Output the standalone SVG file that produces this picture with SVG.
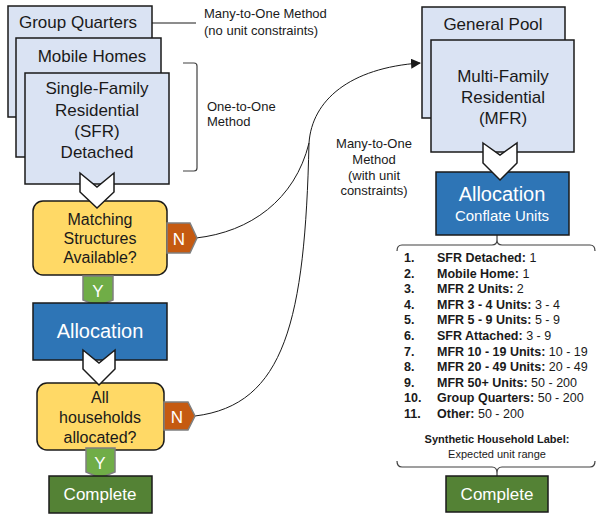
<svg xmlns="http://www.w3.org/2000/svg" width="597" height="514" viewBox="0 0 597 514">
<defs>
<style>
.t{font-family:"Liberation Sans",Arial,sans-serif;fill:#1a1a1a}
.w{font-family:"Liberation Sans",Arial,sans-serif;fill:#ffffff}
.box{fill:#DAE3F3;stroke:#1a1a1a;stroke-width:1.5}
.dec{fill:#FFD966;stroke:#1a1a1a;stroke-width:1.5}
.alloc{fill:#2E75B6;stroke:#1a1a1a;stroke-width:1.5}
.done{fill:#548235;stroke:#1a1a1a;stroke-width:1.5}
.chev{fill:#ffffff;stroke:#1a1a1a;stroke-width:1.5;stroke-linejoin:miter}
.ntag{fill:#C55A11;stroke:#7f7f7f;stroke-width:1.5}
.ytag{fill:#70AD47;stroke:#7f7f7f;stroke-width:1.5}
.con{fill:none;stroke:#1a1a1a;stroke-width:1}
.brk{fill:none;stroke:#404040;stroke-width:1.2}
.b{font-weight:bold}
</style>
<marker id="arr" markerWidth="10" markerHeight="10" refX="9" refY="5" orient="auto" markerUnits="userSpaceOnUse">
<path d="M0,0 L10,5 L0,10 z" fill="#1a1a1a"/>
</marker>
</defs>

<g id="connectors">
<path class="con" d="M196,238 C250,232 295,200 309,143"/>
<path class="con" d="M195,416 C285,405 305,320 309,143"/>
<path class="con" d="M309,143 C312,100 350,68 420,63" marker-end="url(#arr)"/>
<line class="con" x1="152" y1="23" x2="196" y2="23"/>
<line class="con" x1="497" y1="235" x2="497" y2="240" stroke-width="1.5"/>
<line class="con" x1="497" y1="473" x2="497" y2="476" stroke-width="1.5"/>
</g>

<g id="group-quarters">
<rect class="box" x="8" y="6" width="144" height="111"/>
<text class="t" x="78" y="28" font-size="17" text-anchor="middle">Group Quarters</text>
</g>
<g id="mobile-homes">
<rect class="box" x="16" y="38" width="145" height="119"/>
<text class="t" x="92" y="62" font-size="17" text-anchor="middle">Mobile Homes</text>
</g>
<g id="sfr">
<rect class="box" x="25" y="73" width="144" height="111"/>
<text class="t" font-size="17" text-anchor="middle"><tspan x="97" y="94">Single-Family</tspan><tspan x="97" y="116">Residential</tspan><tspan x="97" y="137">(SFR)</tspan><tspan x="97" y="158">Detached</tspan></text>
</g>

<g id="note-many-to-one">
<text class="t" font-size="13"><tspan x="204" y="18">Many-to-One Method</tspan><tspan x="204" y="35">(no unit constraints)</tspan></text>
</g>
<g id="note-one-to-one">
<path class="brk" d="M183,63 L194,63 Q197,63 197,66 L197,168 Q197,171 194,171 L183,171"/>
<text class="t" font-size="13"><tspan x="207" y="111">One-to-One</tspan><tspan x="207" y="126">Method</tspan></text>
</g>

<g id="decision-1">
<rect class="dec" x="33" y="201" width="134" height="74" rx="10"/>
<text class="t" font-size="16" text-anchor="middle"><tspan x="100" y="225">Matching</tspan><tspan x="100" y="244">Structures</tspan><tspan x="100" y="263">Available?</tspan></text>
</g>
<g id="chevron-1">
<polygon class="chev" points="80,173 97,187 114,173 114,192 97,208 80,192"/>
</g>
<g id="n-tag-1">
<polygon class="ntag" points="167,223 190,223 197,238 190,253 167,253"/>
<text class="w" x="179" y="245" font-size="17" text-anchor="middle">N</text>
</g>
<g id="y-tag-1">
<polygon class="ytag" points="83,276 113,276 113,300 98,306 83,300"/>
<text class="w" x="98" y="297" font-size="17" text-anchor="middle">Y</text>
</g>

<g id="allocation-left">
<rect class="alloc" x="33" y="303" width="134" height="57"/>
<text class="w" x="100" y="338" font-size="20" text-anchor="middle">Allocation</text>
</g>

<g id="decision-2">
<rect class="dec" x="37" y="383" width="127" height="67" rx="10"/>
<text class="t" font-size="16" text-anchor="middle"><tspan x="100" y="403">All</tspan><tspan x="100" y="423">households</tspan><tspan x="100" y="443">allocated?</tspan></text>
</g>
<g id="chevron-2">
<polygon class="chev" points="83,350 99,363 115,350 115,369 99,385 83,369"/>
</g>
<g id="n-tag-2">
<polygon class="ntag" points="164,402 188,402 195,416 188,430 164,430"/>
<text class="w" x="177" y="423" font-size="17" text-anchor="middle">N</text>
</g>
<g id="y-tag-2">
<polygon class="ytag" points="86,448 115,448 115,472 100,478 86,472"/>
<text class="w" x="100" y="469" font-size="17" text-anchor="middle">Y</text>
</g>

<g id="complete-left">
<rect class="done" x="49" y="476" width="103" height="37"/>
<text class="w" x="100" y="500" font-size="17" text-anchor="middle">Complete</text>
</g>

<g id="note-many-to-one-constraints">
<text class="t" font-size="13" text-anchor="middle"><tspan x="374" y="148">Many-to-One</tspan><tspan x="374" y="164">Method</tspan><tspan x="374" y="180">(with unit</tspan><tspan x="374" y="195">constraints)</tspan></text>
</g>

<g id="general-pool">
<rect class="box" x="422" y="7" width="143" height="111"/>
<text class="t" x="493" y="30" font-size="17" text-anchor="middle">General Pool</text>
</g>
<g id="mfr">
<rect class="box" x="431" y="40" width="143" height="112"/>
<text class="t" font-size="17" text-anchor="middle"><tspan x="503" y="82">Multi-Family</tspan><tspan x="503" y="103">Residential</tspan><tspan x="503" y="124">(MFR)</tspan></text>
</g>
<g id="allocation-right">
<rect class="alloc" x="436" y="172" width="133" height="63"/>
<text class="w" x="502" y="201" font-size="20" text-anchor="middle">Allocation</text>
<text class="w" x="502" y="221" font-size="15" text-anchor="middle">Conflate Units</text>
</g>
<g id="chevron-3">
<polygon class="chev" points="483,143 500,155 517,143 517,163 500,180 483,163"/>
</g>

<g id="label-list">
<path class="brk" d="M397,251 Q397,245 402,245 L492,245 Q497,245 497,240 Q497,245 502,245 L590,245 Q595,245 595,251"/>
<text class="t b" font-size="12.5"><tspan x="404" y="262">1.</tspan><tspan x="404" y="277.6">2.</tspan><tspan x="404" y="293.2">3.</tspan><tspan x="404" y="308.8">4.</tspan><tspan x="404" y="324.4">5.</tspan><tspan x="404" y="340">6.</tspan><tspan x="404" y="355.6">7.</tspan><tspan x="404" y="371.2">8.</tspan><tspan x="404" y="386.8">9.</tspan><tspan x="404" y="402.4">10.</tspan><tspan x="404" y="418">11.</tspan></text>
<text class="t" font-size="12.5">
<tspan x="437" y="262"><tspan class="b">SFR Detached:</tspan> 1</tspan>
<tspan x="437" y="277.6"><tspan class="b">Mobile Home:</tspan> 1</tspan>
<tspan x="437" y="293.2"><tspan class="b">MFR 2 Units:</tspan> 2</tspan>
<tspan x="437" y="308.8"><tspan class="b">MFR 3 - 4 Units:</tspan> 3 - 4</tspan>
<tspan x="437" y="324.4"><tspan class="b">MFR 5 - 9 Units:</tspan> 5 - 9</tspan>
<tspan x="437" y="340"><tspan class="b">SFR Attached:</tspan> 3 - 9</tspan>
<tspan x="437" y="355.6"><tspan class="b">MFR 10 - 19 Units:</tspan> 10 - 19</tspan>
<tspan x="437" y="371.2"><tspan class="b">MFR 20 - 49 Units:</tspan> 20 - 49</tspan>
<tspan x="437" y="386.8"><tspan class="b">MFR 50+ Units:</tspan> 50 - 200</tspan>
<tspan x="437" y="402.4"><tspan class="b">Group Quarters:</tspan> 50 - 200</tspan>
<tspan x="437" y="418"><tspan class="b">Other:</tspan> 50 - 200</tspan>
</text>
<text class="t b" x="497" y="443" font-size="11" text-anchor="middle">Synthetic Household Label:</text>
<text class="t" x="497" y="458" font-size="11" text-anchor="middle">Expected unit range</text>
<path class="brk" d="M397,461 Q397,467 402,467 L492,467 Q497,467 497,473 Q497,467 502,467 L590,467 Q595,467 595,461"/>
</g>

<g id="complete-right">
<rect class="done" x="446" y="476" width="102" height="36"/>
<text class="w" x="497" y="500" font-size="17" text-anchor="middle">Complete</text>
</g>
</svg>
